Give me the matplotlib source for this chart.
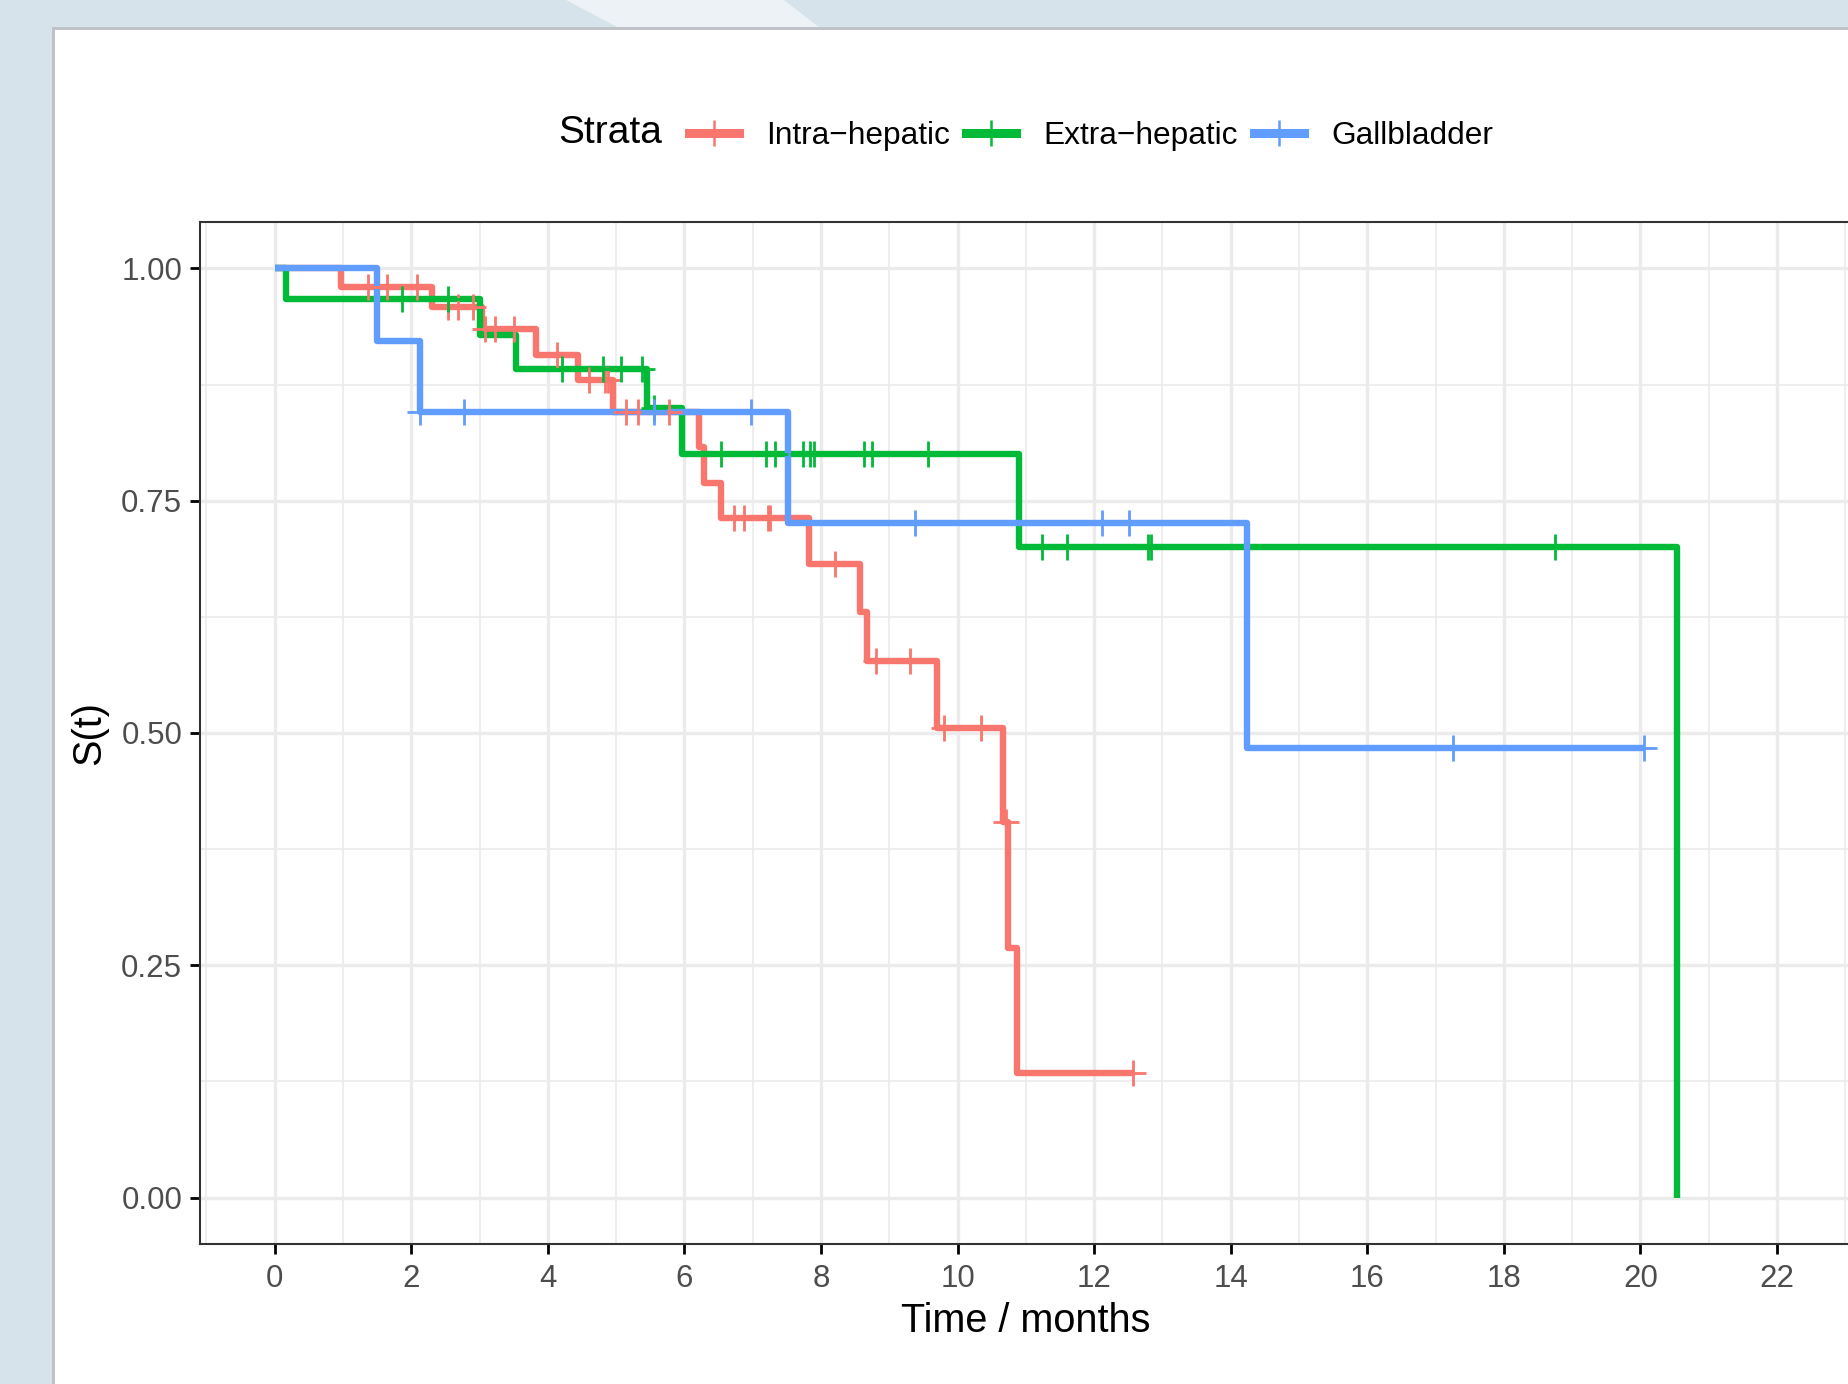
import numpy as np
import matplotlib
matplotlib.use("Agg")
import matplotlib.pyplot as plt
from matplotlib.lines import Line2D
from matplotlib.patches import Rectangle, Polygon
from matplotlib.ticker import MultipleLocator

plt.rcParams['font.family'] = ['Liberation Sans', 'DejaVu Sans']

W, H = 1849, 1384

strata = ["Intra\u2212hepatic", "Extra\u2212hepatic", "Gallbladder"]
colors = ["#F8766D", "#00BA38", "#619CFF"]

# KM steps: time of each drop and survival after it (last point = end of curve)
intra_t = [0, 0.97, 2.31, 3.03, 3.83, 4.44, 4.96, 6.21, 6.28, 6.53, 7.82,
           8.57, 8.67, 9.70, 10.67, 10.74, 10.87, 12.57]
intra_s = [1.0, 0.980, 0.959, 0.935, 0.907, 0.880, 0.846, 0.808, 0.769, 0.731,
           0.682, 0.630, 0.577, 0.505, 0.404, 0.269, 0.134, 0.134]
intra_cens = [1.36, 1.64, 2.08, 2.54, 2.69, 2.90, 3.08, 3.22, 3.50, 4.13,
              4.60, 4.83, 4.88, 5.14, 5.32, 5.78, 6.73, 6.87, 7.22, 7.26,
              8.21, 8.81, 9.30, 9.80, 10.34, 10.71, 12.57]

extra_t = [0, 0.16, 3.01, 3.53, 5.45, 5.97, 10.90, 20.54]
extra_s = [1.0, 0.967, 0.928, 0.892, 0.850, 0.800, 0.700, 0.0]
extra_cens = [1.86, 2.54, 4.21, 4.81, 5.07, 5.38, 5.56, 6.53, 7.20, 7.33,
              7.74, 7.84, 7.90, 8.63, 8.75, 9.57, 11.24, 11.61, 12.79, 12.83,
              18.75]

gall_t = [0, 1.50, 2.13, 7.51, 14.24, 20.05]
gall_s = [1.0, 0.922, 0.845, 0.726, 0.484, 0.484]
gall_cens = [2.13, 2.77, 5.56, 6.97, 9.37, 12.11, 12.51, 17.25, 20.05]

curves = [(intra_t, intra_s, intra_cens),
          (extra_t, extra_s, extra_cens),
          (gall_t, gall_s, gall_cens)]


def level_at(times, surv, t):
    idx = np.searchsorted(times, t, side='right') - 1
    return np.asarray(surv)[idx]


fig = plt.figure(figsize=(W / 100, H / 100), dpi=100)
fig.patch.set_facecolor('#d6e3eb')

# screenshot backdrop
fig.patches.append(Polygon([(566 / W, 1), (784 / W, 1), (820 / W, 1 - 28 / H), (619 / W, 1 - 28 / H)],
                           closed=True, transform=fig.transFigure, facecolor='#edf2f6',
                           edgecolor='none', zorder=-10))
fig.patches.append(Rectangle((52 / W, 0), 1, 1 - 27 / H, transform=fig.transFigure,
                             facecolor='#bfc3c7', edgecolor='none', zorder=-10))
fig.patches.append(Rectangle((55 / W, 0), 1, 1 - 30 / H, transform=fig.transFigure,
                             facecolor='white', edgecolor='none', zorder=-9))

ax = fig.add_axes([200.5 / W, 140 / H, (1850 - 200.5) / W, 1022 / H])
ax.set_zorder(1)
ax.set_facecolor('white')
ax.set_xlim(-1.087, 23.07)
ax.set_ylim(-0.05, 1.05)

for (t, s, cens), col in zip(curves, colors):
    ax.step(t, s, where='post', color=col, lw=4.6, solid_joinstyle='round',
            solid_capstyle='butt', zorder=3)
for (t, s, cens), col in zip(curves, colors):
    ax.plot(cens, level_at(t, s, cens), ls='none', marker='+', ms=19,
            mew=2.0, color=col, zorder=4)

ax.set_xticks(range(0, 23, 2))
ax.set_yticks([0, 0.25, 0.5, 0.75, 1.0])
ax.set_yticklabels(["0.00", "0.25", "0.50", "0.75", "1.00"])
ax.xaxis.set_minor_locator(MultipleLocator(1))
ax.yaxis.set_minor_locator(MultipleLocator(0.125))
ax.set_axisbelow(True)
ax.grid(which='major', color='#ebebeb', lw=2.4)
ax.grid(which='minor', color='#ebebeb', lw=1.2)
ax.tick_params(which='major', length=7.2, width=2.0, color='black',
               labelcolor='#4d4d4d', labelsize=22.5)
ax.tick_params(axis='x', pad=7)
ax.tick_params(axis='y', pad=6)
ax.tick_params(which='minor', length=0)

ax.spines['right'].set_visible(False)
for sp in ['left', 'top', 'bottom']:
    ax.spines[sp].set_color('#333333')
    ax.spines[sp].set_linewidth(1.5)

ax.set_xlabel("Time / months", fontsize=28.5)
ax.xaxis.label.set_va('baseline')
ax.xaxis.set_label_coords(0.5, -(1331.7 - 1244) / 1022)
ax.set_ylabel("S(t)", fontsize=28.5)
ax.yaxis.label.set_va('center')
ax.yaxis.set_label_coords((89 - 200.5) / 1649.5, 0.5)

# legend on top, ggplot style
fig.text(558.3 / W, 1 - 143.3 / H, "Strata", fontsize=28, va='baseline', ha='left')
handles = [Line2D([], [], color=c, lw=6.5, marker='+', ms=19, mew=1.8) for c in colors]
fig.legend(handles, strata, loc='center left', bbox_to_anchor=(689 / W, 1 - 136 / H),
           ncol=3, frameon=False, fontsize=22.8, handlelength=1.58,
           handletextpad=0.87, columnspacing=0.49, borderpad=0, borderaxespad=0,
           numpoints=1)

fig.savefig("out.png", dpi=100, facecolor=fig.get_facecolor())
